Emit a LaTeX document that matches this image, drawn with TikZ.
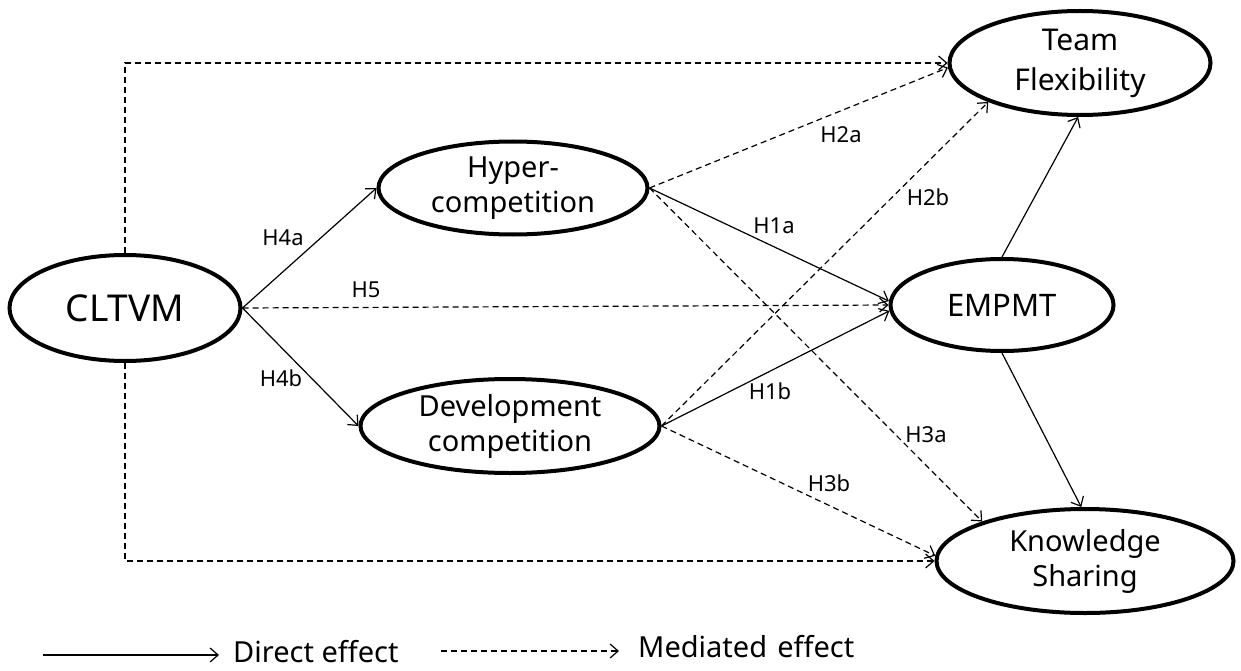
\documentclass[tikz,border=0pt]{standalone}
\usepackage{fontspec}
\setmainfont{Noto Sans}
\usetikzlibrary{shapes.geometric,arrows.meta}
\begin{document}
\begin{tikzpicture}[x=1pt,y=-1pt,
  var/.style={ellipse,draw,line width=4pt,inner sep=0pt,align=center,font=\fontsize{29}{35}\selectfont},
  conn/.style={line width=1.2pt,-{Straight Barb[length=8pt,width=14pt,line width=1.2pt]}},
  med/.style={conn,dash pattern=on 6pt off 4pt},
  lab/.style={font=\fontsize{22}{26}\selectfont,inner sep=0pt},
  leg/.style={font=\fontsize{29}{35}\selectfont,inner sep=0pt,anchor=base west}]
\useasboundingbox (0,0) rectangle (1241,671);
% variables
\node[var,minimum width=231pt,minimum height=106pt,font=\fontsize{37}{44}\selectfont] (cl) at (125,308) {CLTVM};
\node[var,minimum width=269pt,minimum height=93pt] (hy) at (513,188) {Hyper-\\competition};
\node[var,minimum width=299pt,minimum height=94pt] (dv) at (510,426) {Development\\competition};
\node[var,minimum width=261pt,minimum height=104pt,font=\fontsize{30}{40}\selectfont] (tf) at (1080,63) {Team\\Flexibility};
\node[var,minimum width=223pt,minimum height=92pt,font=\fontsize{31}{37}\selectfont] (em) at (1002,305) {EMPMT};
\node[var,minimum width=297pt,minimum height=104pt] (ks) at (1085,561) {Knowledge\\Sharing};
% connectors
\draw[med] (cl.north) |- (tf.west);
\draw[med] (cl.south) |- (ks.west);
\draw[conn] (cl.east) -- (hy.west);
\draw[conn] (cl.east) -- (dv.west);
\draw[med] (cl.east) -- (em.west);
\draw[med] (hy.east) -- (tf.182);
\draw[conn] (hy.east) -- (em.178);
\draw[med] (hy.east) -- (ks.159);
\draw[med] (dv.east) -- (tf.203);
\draw[conn] (dv.east) -- (em.183);
\draw[med] (dv.east) -- (ks.178);
\draw[conn] (em.north) -- (tf.268);
\draw[conn] (em.south) -- (ks.94);
% labels
\node[lab] (h4a) at (283,238) {H4a};
\node[lab] (h5) at (366,290) {H5};
\node[lab] (h4b) at (281,378) {H4b};
\node[lab] (h2a) at (841,135) {H2a};
\node[lab] (h2b) at (928,197) {H2b};
\node[lab] (h1a) at (774,226) {H1a};
\node[lab] (h1b) at (770,391) {H1b};
\node[lab] (h3a) at (926,435) {H3a};
\node[lab] (h3b) at (829,483) {H3b};
% legend
\coordinate (l1s) at (43,655);
\coordinate (l1e) at (219,655);
\draw[conn] (l1s) -- (l1e);
\node[leg] (l1t) at (233,662) {Direct effect};
\coordinate (l2s) at (441,651);
\coordinate (l2e) at (619,651);
\draw[med] (l2s) -- (l2e);
\node[leg] (l2t) at (638,657) {Mediated\hspace{0.35em}effect};
\end{tikzpicture}
\end{document}
